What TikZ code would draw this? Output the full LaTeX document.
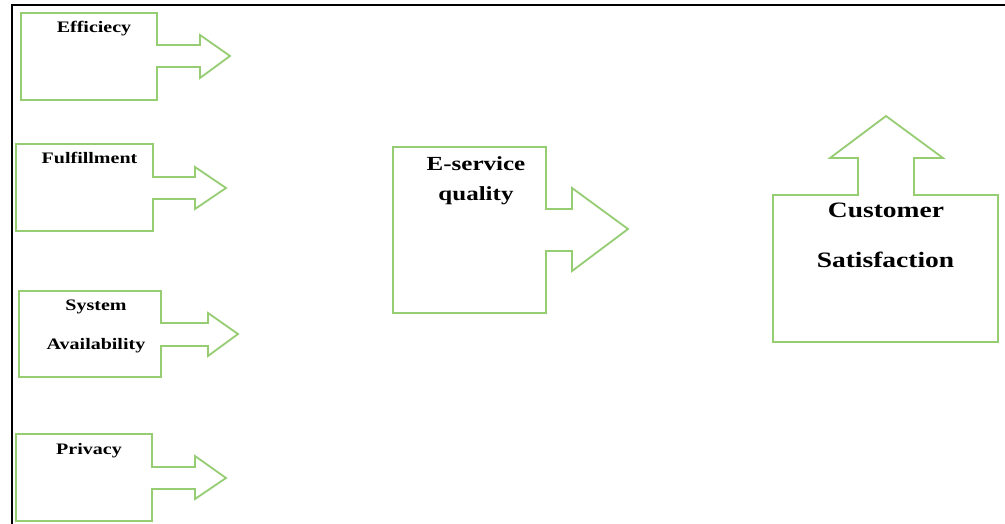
\documentclass[tikz,border=0pt]{standalone}
\usepackage{fontspec}
\setmainfont{Liberation Serif}[FakeStretch=1.25]
\definecolor{callgreen}{RGB}{150,205,115}
\tikzset{
  callout/.style={draw=callgreen, line width=1.8bp, line join=miter, fill=white},
  frameline/.style={draw=black, line width=2.5bp},
  lbl/.style={font=\bfseries\fontsize{16bp}{18bp}\selectfont, inner sep=0pt, anchor=base, text=black},
  mlbl/.style={font=\bfseries\fontsize{20bp}{22bp}\selectfont, inner sep=0pt, anchor=base, text=black},
  blbl/.style={font=\bfseries\fontsize{22bp}{24bp}\selectfont, inner sep=0pt, anchor=base, text=black}
}
\begin{document}
\begin{tikzpicture}[x=1bp, y=-1bp]
\useasboundingbox (0,0) rectangle (1005,524);
\fill[white] (0,0) rectangle (1005,524);
% frame
\coordinate (ftl) at (12,5);
\coordinate (ftr) at (1005,5);
\coordinate (fbl) at (12,524);
\draw[frameline] (ftr) -- (ftl) -- (fbl);
% Efficiency
\draw[callout] (21,13) -- (157,13) -- (157,45) -- (200,45) -- (200,35) -- (230,56) -- (200,78) -- (200,67) -- (157,67) -- (157,100) -- (21,100) -- cycle;
\node[lbl] (eff) at (94,33) {Efficiecy};
% Fulfillment
\draw[callout] (16,144) -- (153,144) -- (153,177) -- (195,177) -- (195,167) -- (226,188) -- (195,209) -- (195,199) -- (153,199) -- (153,231) -- (16,231) -- cycle;
\node[lbl] (ful) at (89.5,164) {Fulfillment};
% System Availability
\draw[callout] (19,291) -- (161,291) -- (161,323) -- (208,323) -- (208,313) -- (238,334) -- (208,356) -- (208,346) -- (161,346) -- (161,377) -- (19,377) -- cycle;
\node[lbl] (sys) at (96,311) {System};
\node[lbl] (ava) at (96,350) {Availability};
% Privacy
\draw[callout] (16,434) -- (152,434) -- (152,467) -- (195,467) -- (195,456) -- (226,478) -- (195,499) -- (195,489) -- (152,489) -- (152,521) -- (16,521) -- cycle;
\node[lbl] (pri) at (89,454) {Privacy};
% E-service quality
\draw[callout] (393,147) -- (546,147) -- (546,209) -- (572,209) -- (572,188) -- (628,229) -- (572,271) -- (572,251) -- (546,251) -- (546,313) -- (393,313) -- cycle;
\node[mlbl] (esq1) at (476,171) {E-service};
\node[mlbl] (esq2) at (476,201) {quality};
% Customer Satisfaction
\draw[callout] (773,195) -- (858,195) -- (858,158) -- (830,158) -- (886,116) -- (943,158) -- (914,158) -- (914,195) -- (998,195) -- (998,342) -- (773,342) -- cycle;
\node[blbl] (cs1) at (886,218) {Customer};
\node[blbl] (cs2) at (885.5,268) {Satisfaction};
\end{tikzpicture}
\end{document}
